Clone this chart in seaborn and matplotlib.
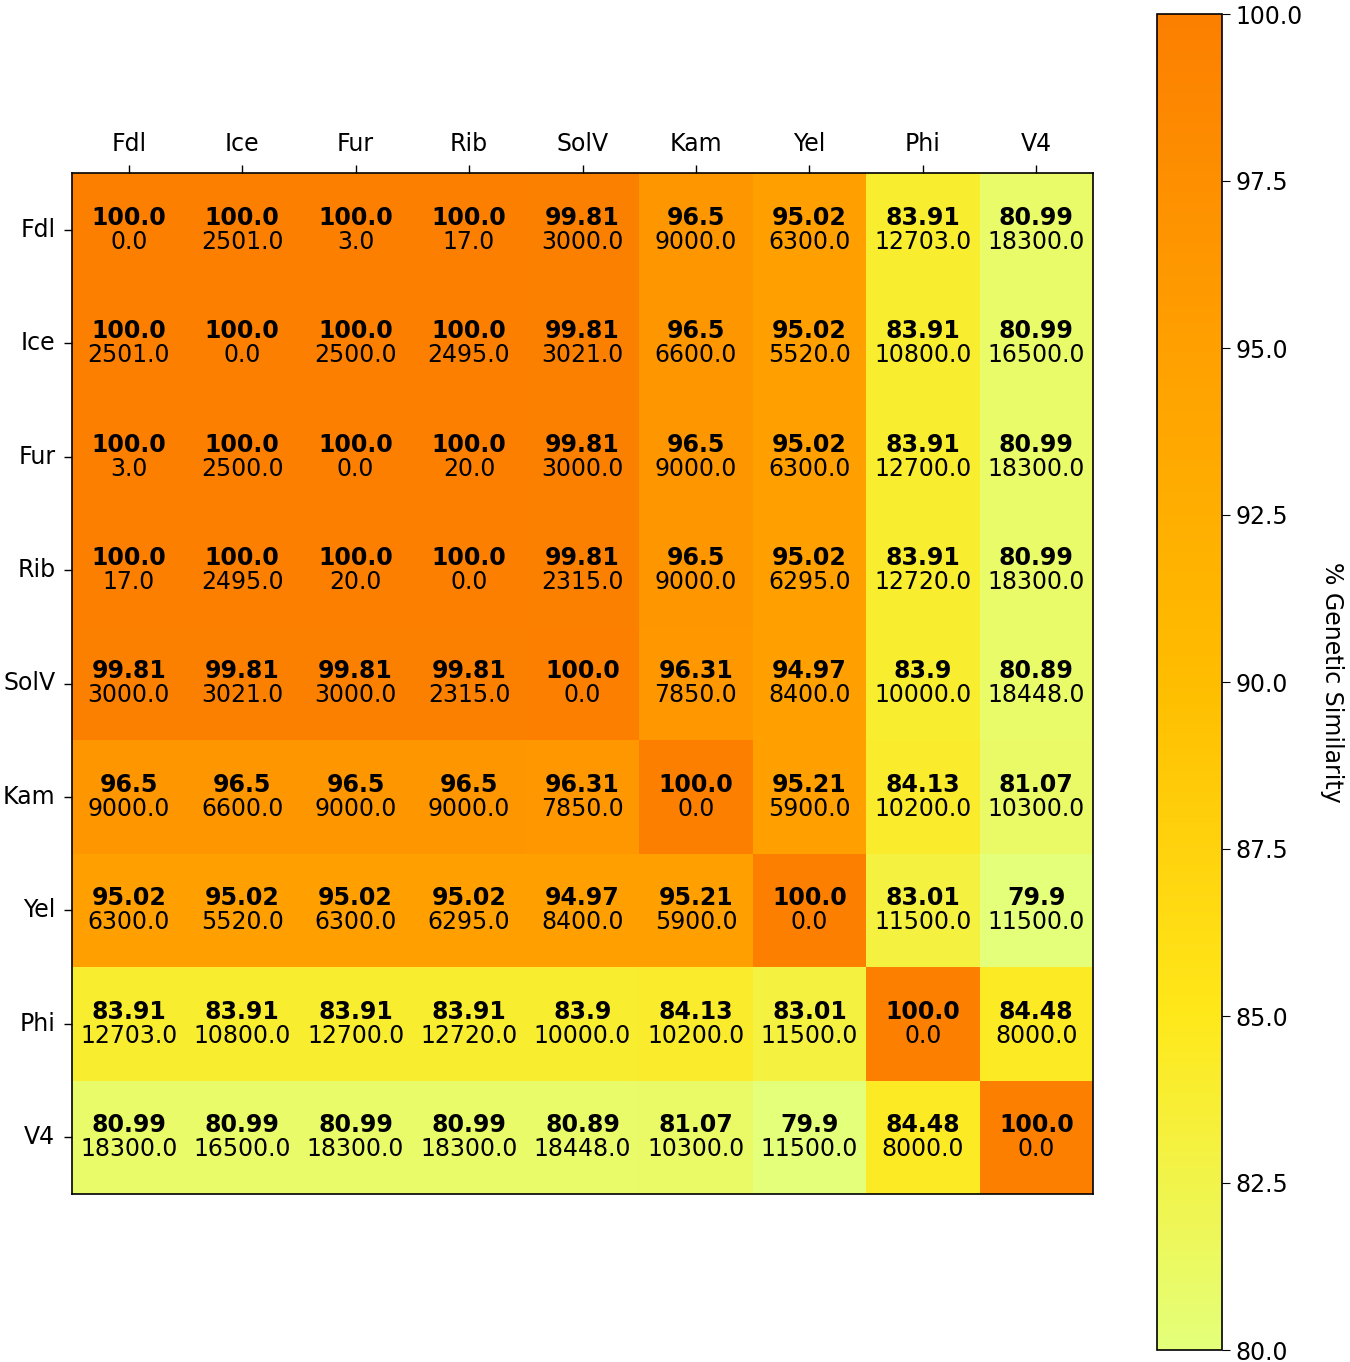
import numpy as np
import matplotlib
matplotlib.use("Agg")
import matplotlib.pyplot as plt
import seaborn as sns

# strains, in the order shown on both axes
strains = ["Fdl", "Ice", "Fur", "Rib", "SolV", "Kam", "Yel", "Phi", "V4"]

# % genetic similarity (cell colour, bold number)
similarity = np.array([
    [100.0, 100.0, 100.0, 100.0, 99.81, 96.5, 95.02, 83.91, 80.99],
    [100.0, 100.0, 100.0, 100.0, 99.81, 96.5, 95.02, 83.91, 80.99],
    [100.0, 100.0, 100.0, 100.0, 99.81, 96.5, 95.02, 83.91, 80.99],
    [100.0, 100.0, 100.0, 100.0, 99.81, 96.5, 95.02, 83.91, 80.99],
    [99.81, 99.81, 99.81, 99.81, 100.0, 96.31, 94.97, 83.9, 80.89],
    [96.5, 96.5, 96.5, 96.5, 96.31, 100.0, 95.21, 84.13, 81.07],
    [95.02, 95.02, 95.02, 95.02, 94.97, 95.21, 100.0, 83.01, 79.9],
    [83.91, 83.91, 83.91, 83.91, 83.9, 84.13, 83.01, 100.0, 84.48],
    [80.99, 80.99, 80.99, 80.99, 80.89, 81.07, 79.9, 84.48, 100.0],
])

# second number printed under each similarity value
distance = np.array([
    [0, 2501, 3, 17, 3000, 9000, 6300, 12703, 18300],
    [2501, 0, 2500, 2495, 3021, 6600, 5520, 10800, 16500],
    [3, 2500, 0, 20, 3000, 9000, 6300, 12700, 18300],
    [17, 2495, 20, 0, 2315, 9000, 6295, 12720, 18300],
    [3000, 3021, 3000, 2315, 0, 7850, 8400, 10000, 18448],
    [9000, 6600, 9000, 9000, 7850, 0, 5900, 10200, 10300],
    [6300, 5520, 6300, 6295, 8400, 5900, 0, 11500, 11500],
    [12703, 10800, 12700, 12720, 10000, 10200, 11500, 0, 8000],
    [18300, 16500, 18300, 18300, 18448, 10300, 11500, 8000, 0],
], dtype=float)

cbar_ticks = [80.0, 82.5, 85.0, 87.5, 90.0, 92.5, 95.0, 97.5, 100.0]

W, H = 1350, 1362
fig = plt.figure(figsize=(W / 100, H / 100), dpi=100)
ax = fig.add_axes([72 / W, (H - 1194) / H, 1021 / W, 1021 / H])
cax = fig.add_axes([1157 / W, (H - 1350) / H, 65 / W, 1336 / H])

sns.heatmap(similarity, ax=ax, cmap="Wistia", vmin=80, vmax=100,
            cbar_ax=cax, square=False,
            xticklabels=strains, yticklabels=strains)

# two-line cell labels: bold similarity on top, distance below
for i in range(len(strains)):
    for j in range(len(strains)):
        ax.text(j + 0.5, i + 0.5, str(similarity[i, j]), ha="center", va="bottom",
                fontsize=17, fontweight="bold", color="black")
        ax.text(j + 0.5, i + 0.5, str(distance[i, j]), ha="center", va="top",
                fontsize=17, color="black")

ax.xaxis.tick_top()
ax.tick_params(axis="both", length=6, width=1, labelsize=17, pad=6)
ax.tick_params(axis="x", top=True, bottom=False, labeltop=True, labelbottom=False)
ax.tick_params(axis="y", left=True, labelrotation=0)
for s in ax.spines.values():
    s.set_visible(True)
    s.set_linewidth(1.2)
    s.set_color("black")

cbar = ax.collections[0].colorbar
cbar.set_ticks(cbar_ticks)
cbar.set_ticklabels([f"{t:.1f}" for t in cbar_ticks])
cbar.ax.tick_params(labelsize=17, length=6)
cbar.outline.set_visible(True)
cbar.outline.set_linewidth(1.2)
cbar.outline.set_edgecolor("black")
cbar.set_label("% Genetic Similarity", rotation=270, fontsize=17, labelpad=30)

fig.savefig("out.png", dpi=100)
